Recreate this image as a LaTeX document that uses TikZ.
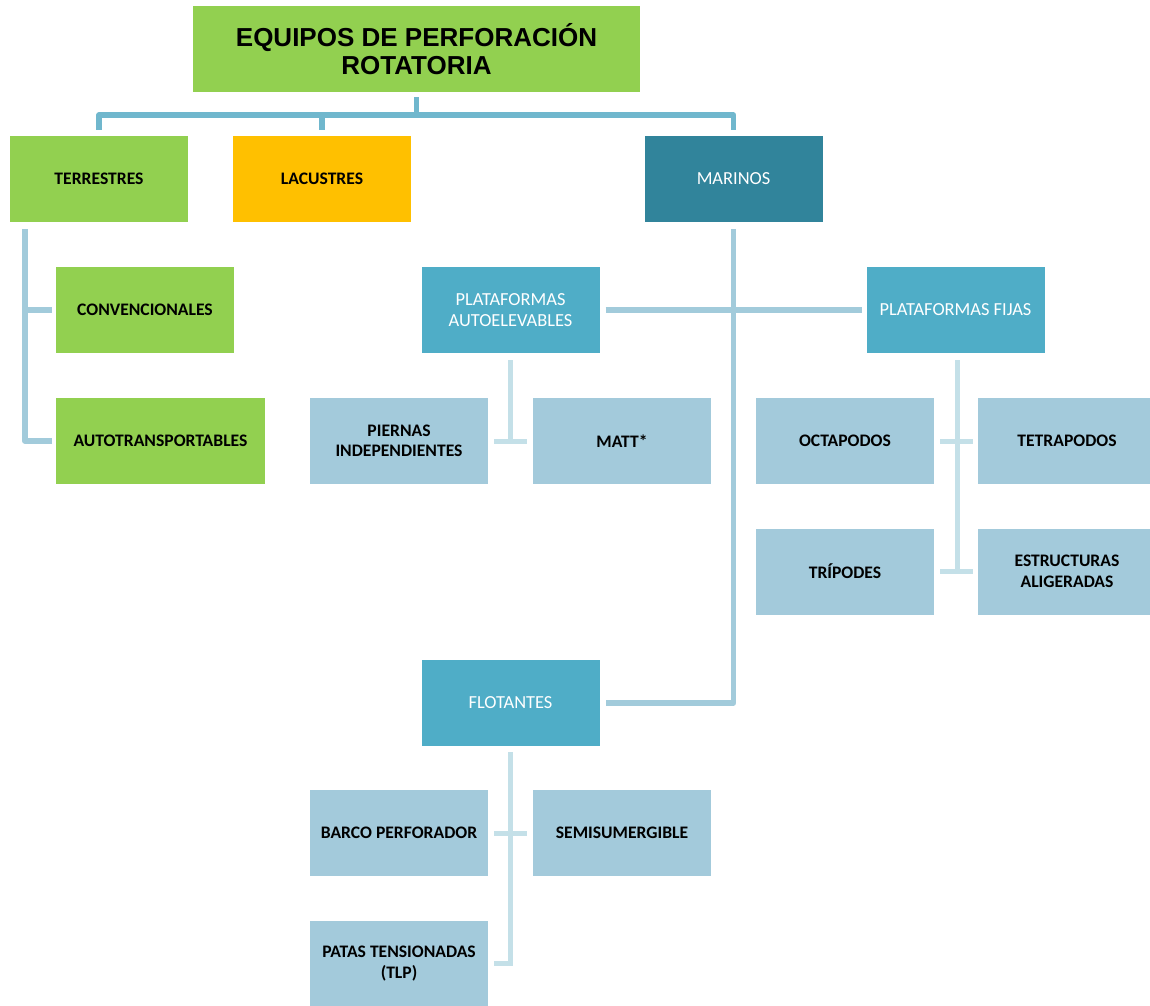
\documentclass[tikz,border=0pt]{standalone}
\usepackage{fontspec}
\setmainfont{Carlito}
\newfontfamily\headfont{Liberation Sans}
\usetikzlibrary{calc}

\definecolor{leafgreen}{HTML}{92D050}
\definecolor{amber}{HTML}{FFC000}
\definecolor{deepteal}{HTML}{31849B}
\definecolor{midblue}{HTML}{4FADC7}
\definecolor{paleblue}{HTML}{A3CADB}
\definecolor{linetop}{HTML}{70B7CD}
\definecolor{linemid}{HTML}{A2CBDB}
\definecolor{linesub}{HTML}{C4E0E8}

\tikzset{
  card/.style={rectangle, inner sep=0pt, minimum width=178pt, minimum height=86pt,
    align=center, font=\fontsize{17.6}{20.5}\selectfont\bfseries},
  greencard/.style={card, fill=leafgreen, text=black},
  ambercard/.style={card, fill=amber, text=black},
  tealcard/.style={card, fill=deepteal, text=white, font=\fontsize{18.4}{21}\selectfont},
  bluecard/.style={card, fill=midblue, text=white, font=\fontsize{18.4}{21}\selectfont},
  palecard/.style={card, fill=paleblue, text=black},
  topline/.style={draw=linetop, line width=5.5pt, line join=round},
  midline/.style={draw=linemid, line width=5.5pt, line join=round},
  subline/.style={draw=linesub, line width=5pt, line join=miter},
}

\begin{document}
\begin{tikzpicture}[x=1pt,y=-1pt]
\useasboundingbox (0,0) rectangle (1150,1005);
\clip (0,0) rectangle (1150,1005);

% root
\node[greencard, minimum width=447pt, font=\headfont\fontsize{26}{28}\selectfont\bfseries]
  (root) at (416.5,49) {EQUIPOS DE PERFORACIÓN\\ROTATORIA};

% first level
\node[greencard] (terr) at (99,179) {TERRESTRES};
\node[ambercard] (lac) at (322,179) {LACUSTRES};
\node[tealcard] (mar) at (733.5,179) {MARINOS};

% land rigs
\node[greencard] (conv) at (145,310) {CONVENCIONALES};
\node[greencard, minimum width=209pt] (auto) at (160.5,441) {AUTOTRANSPORTABLES};

% offshore groups
\node[bluecard] (pauto) at (510.5,310) {PLATAFORMAS\\AUTOELEVABLES};
\node[bluecard] (pfijas) at (955.5,310) {PLATAFORMAS FIJAS};
\node[bluecard] (flot) at (510.5,703) {FLOTANTES};

% jack-up types
\node[palecard] (piernas) at (399,441) {PIERNAS\\INDEPENDIENTES};
\node[palecard] (matt) at (622,441) {MATT*};

% fixed platform types
\node[palecard] (octa) at (845,441) {OCTAPODOS};
\node[palecard] (tetra) at (1067,441) {TETRAPODOS};
\node[palecard] (trip) at (845,571.5) {TRÍPODES};
\node[palecard] (estr) at (1067,571.5) {ESTRUCTURAS\\ALIGERADAS};

% floating types
\node[palecard] (barco) at (399,833) {BARCO PERFORADOR};
\node[palecard] (semi) at (622,833) {SEMISUMERGIBLE};
\node[palecard] (patas) at (399,963.5) {PATAS TENSIONADAS\\(TLP)};

% root bus
\coordinate (bus) at (0,115);
\draw[topline] ($(root.south)+(0,5)$) -- (root.south |- bus);
\draw[topline] ($(terr.north)+(0,-6)$) |- (bus -| mar.north) -- ($(mar.north)+(0,-6)$);
\draw[topline] ($(lac.north)+(0,-6)$) -- (lac.north |- bus);

% land branch
\coordinate (tbus) at ($(terr.south west)+(15,7)$);
\draw[midline] (tbus) |- ($(auto.west)+(-4,0)$);
\draw[midline] (tbus |- conv.west) -- ($(conv.west)+(-4,0)$);

% offshore branch
\draw[midline] ($(mar.south)+(0,7)$) |- ($(flot.east)+(6,0)$);
\draw[midline] ($(pauto.east)+(6,0)$) -- ($(pfijas.west)+(-4,0)$);

% jack-up subtree
\draw[subline] ($(pauto.south)+(0,7)$) -- (pauto.south |- piernas.east);
\draw[subline] ($(piernas.east)+(6,0)$) -- ($(matt.west)+(-6,0)$);

% fixed platform subtree
\draw[subline] ($(pfijas.south)+(1.5,7)$) -- ($(pfijas.south |- trip.east)+(1.5,0)$);
\draw[subline] ($(octa.east)+(6,0)$) -- ($(tetra.west)+(-5,0)$);
\draw[subline] ($(trip.east)+(6,0)$) -- ($(estr.west)+(-5,0)$);

% floating subtree
\draw[subline] ($(flot.south)+(0,6)$) |- ($(patas.east)+(6,0)$);
\draw[subline] ($(barco.east)+(6,0)$) -- ($(semi.west)+(-6,0)$);
\end{tikzpicture}
\end{document}
